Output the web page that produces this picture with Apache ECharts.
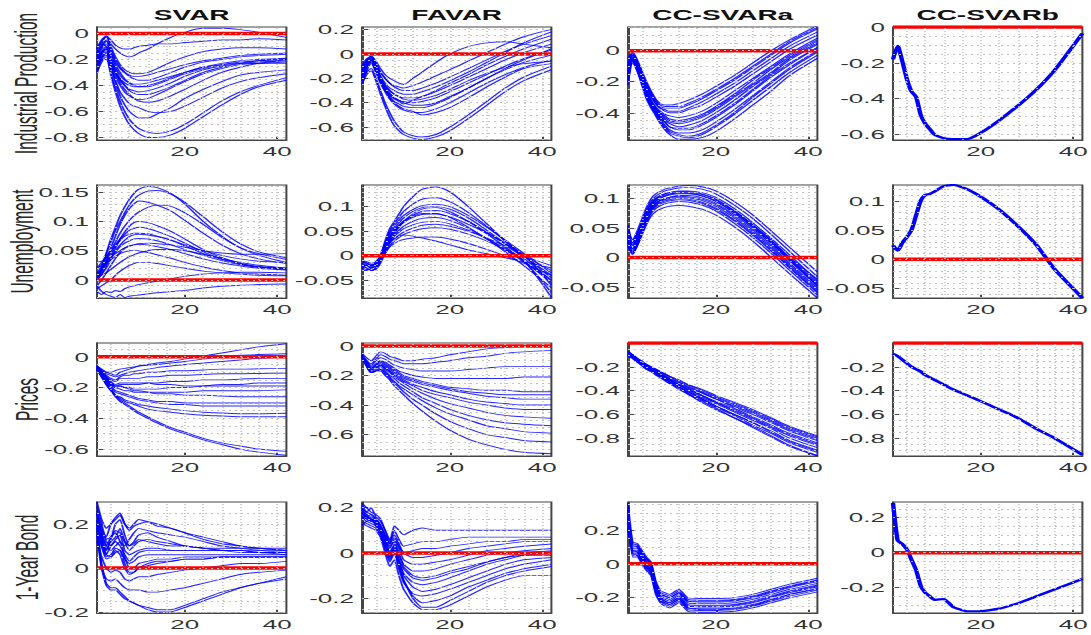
<!DOCTYPE html>
<html><head><meta charset="utf-8">
<script src="https://cdn.jsdelivr.net/npm/echarts@6/dist/echarts.min.js"></script>
<style>
html,body{margin:0;padding:0;background:#fff;overflow:hidden;width:1091px;height:635px}
#chart{width:545.5px;height:635px;transform:scaleX(2);transform-origin:0 0}
</style></head>
<body><div id="chart"></div>
<script>
// ---------- DATA ----------
const H = [1,2,3,4,5,6,7,8,9,10,12,14,17,20,24,28,32,36,42];
const models = ['SVAR','FAVAR','CC-SVARa','CC-SVARb'];
const variables = ['Industrial Production','Unemployment','Prices','1-Year Bond'];
const xTickLabels = [20, 40];

const ticks_ip_SVAR = [-0.8,-0.6,-0.4,-0.2,0];
const ticks_ip_FAVAR = [-0.6,-0.4,-0.2,0,0.2];
const ticks_ip_CCa = [-0.4,-0.2,0];
const ticks_ip_CCb = [-0.6,-0.4,-0.2,0];
const ticks_un_SVAR = [0,0.05,0.1,0.15];
const ticks_un_FAVAR = [-0.05,0,0.05,0.1];
const ticks_un_CCa = [-0.05,0,0.05,0.1];
const ticks_un_CCb = [-0.05,0,0.05,0.1];
const ticks_pr_SVAR = [-0.6,-0.4,-0.2,0];
const ticks_pr_FAVAR = [-0.6,-0.4,-0.2,0];
const ticks_pr_CCa = [-0.8,-0.6,-0.4,-0.2];
const ticks_pr_CCb = [-0.8,-0.6,-0.4,-0.2];
const ticks_bd_SVAR = [-0.2,0,0.2];
const ticks_bd_FAVAR = [-0.2,0,0.2];
const ticks_bd_CCa = [-0.2,0,0.2];
const ticks_bd_CCb = [-0.2,0,0.2];

const ip_SVAR = [
[-0.12,-0.06,-0.03,-0.08,-0.12,-0.15,-0.17,-0.18,-0.17,-0.15,-0.12,-0.08,-0.03,0.01,0.04,0.04,0.03,0.01,-0.03],
[-0.15,-0.08,-0.02,-0.05,-0.09,-0.11,-0.12,-0.12,-0.11,-0.1,-0.09,-0.08,-0.08,-0.07,-0.06,-0.05,-0.05,-0.04,-0.05],
[-0.2,-0.12,-0.08,-0.15,-0.22,-0.27,-0.3,-0.32,-0.33,-0.33,-0.32,-0.3,-0.27,-0.24,-0.21,-0.19,-0.17,-0.16,-0.15],
[-0.25,-0.15,-0.1,-0.18,-0.26,-0.32,-0.36,-0.38,-0.39,-0.39,-0.38,-0.36,-0.33,-0.3,-0.26,-0.23,-0.21,-0.2,-0.19],
[-0.18,-0.1,-0.06,-0.14,-0.24,-0.3,-0.35,-0.38,-0.4,-0.41,-0.41,-0.39,-0.35,-0.31,-0.27,-0.24,-0.22,-0.21,-0.2],
[-0.3,-0.2,-0.15,-0.22,-0.3,-0.36,-0.4,-0.43,-0.44,-0.45,-0.44,-0.42,-0.38,-0.33,-0.28,-0.25,-0.23,-0.22,-0.21],
[-0.22,-0.16,-0.12,-0.2,-0.28,-0.35,-0.4,-0.44,-0.46,-0.47,-0.47,-0.45,-0.41,-0.36,-0.3,-0.26,-0.23,-0.21,-0.19],
[-0.28,-0.18,-0.14,-0.24,-0.33,-0.4,-0.45,-0.48,-0.5,-0.51,-0.5,-0.47,-0.42,-0.37,-0.31,-0.27,-0.24,-0.23,-0.22],
[-0.1,-0.08,-0.1,-0.2,-0.3,-0.38,-0.43,-0.47,-0.5,-0.52,-0.53,-0.52,-0.48,-0.43,-0.36,-0.3,-0.26,-0.23,-0.2],
[-0.2,-0.15,-0.12,-0.25,-0.38,-0.48,-0.55,-0.6,-0.63,-0.65,-0.65,-0.62,-0.57,-0.5,-0.43,-0.37,-0.32,-0.3,-0.28],
[-0.25,-0.2,-0.2,-0.32,-0.45,-0.56,-0.64,-0.7,-0.74,-0.77,-0.8,-0.8,-0.78,-0.73,-0.64,-0.55,-0.47,-0.41,-0.36],
[-0.22,-0.18,-0.17,-0.3,-0.42,-0.52,-0.6,-0.66,-0.7,-0.73,-0.76,-0.77,-0.75,-0.7,-0.61,-0.52,-0.45,-0.4,-0.34],
[-0.2,-0.14,-0.12,-0.25,-0.36,-0.45,-0.5,-0.54,-0.56,-0.57,-0.6,-0.61,-0.6,-0.56,-0.49,-0.42,-0.37,-0.34,-0.31],
[-0.15,-0.1,-0.05,-0.12,-0.2,-0.26,-0.3,-0.33,-0.35,-0.36,-0.36,-0.34,-0.3,-0.26,-0.22,-0.2,-0.18,-0.17,-0.16],
[-0.3,-0.22,-0.18,-0.24,-0.3,-0.35,-0.38,-0.4,-0.41,-0.41,-0.4,-0.38,-0.34,-0.3,-0.26,-0.24,-0.23,-0.23,-0.23],
[-0.12,-0.05,-0.02,-0.1,-0.18,-0.24,-0.28,-0.3,-0.31,-0.31,-0.3,-0.27,-0.22,-0.18,-0.14,-0.12,-0.11,-0.11,-0.12]
];
const ip_FAVAR = [
[-0.15,-0.05,-0.02,-0.06,-0.12,-0.17,-0.2,-0.22,-0.24,-0.25,-0.2,-0.15,-0.07,0.0,0.06,0.09,0.1,0.08,0.05],
[-0.2,-0.1,-0.04,-0.08,-0.15,-0.2,-0.24,-0.26,-0.27,-0.28,-0.26,-0.23,-0.18,-0.13,-0.06,0.01,0.08,0.14,0.2],
[-0.12,-0.06,-0.03,-0.1,-0.18,-0.24,-0.28,-0.3,-0.32,-0.33,-0.33,-0.31,-0.27,-0.22,-0.15,-0.07,0.01,0.09,0.18],
[-0.18,-0.08,-0.05,-0.12,-0.2,-0.26,-0.3,-0.33,-0.35,-0.36,-0.36,-0.35,-0.31,-0.26,-0.19,-0.12,-0.05,0.01,0.08],
[-0.22,-0.12,-0.06,-0.14,-0.22,-0.28,-0.33,-0.36,-0.38,-0.39,-0.4,-0.39,-0.36,-0.31,-0.24,-0.17,-0.1,-0.04,0.03],
[-0.14,-0.07,-0.04,-0.12,-0.21,-0.29,-0.35,-0.39,-0.41,-0.43,-0.44,-0.44,-0.41,-0.36,-0.28,-0.2,-0.12,-0.05,0.04],
[-0.25,-0.14,-0.08,-0.15,-0.24,-0.31,-0.37,-0.41,-0.44,-0.46,-0.48,-0.48,-0.45,-0.4,-0.32,-0.24,-0.17,-0.11,-0.05],
[-0.2,-0.1,-0.05,-0.13,-0.23,-0.3,-0.36,-0.4,-0.43,-0.45,-0.47,-0.5,-0.48,-0.44,-0.36,-0.27,-0.19,-0.12,-0.08],
[-0.22,-0.15,-0.12,-0.2,-0.3,-0.4,-0.48,-0.55,-0.6,-0.64,-0.67,-0.68,-0.66,-0.6,-0.5,-0.39,-0.28,-0.19,-0.1],
[-0.25,-0.17,-0.14,-0.22,-0.33,-0.43,-0.52,-0.59,-0.63,-0.66,-0.69,-0.7,-0.68,-0.63,-0.53,-0.42,-0.31,-0.22,-0.13],
[-0.1,-0.04,-0.02,-0.08,-0.15,-0.2,-0.24,-0.27,-0.29,-0.3,-0.3,-0.28,-0.24,-0.19,-0.12,-0.05,0.02,0.08,0.15],
[-0.16,-0.09,-0.05,-0.12,-0.2,-0.27,-0.32,-0.36,-0.38,-0.4,-0.42,-0.42,-0.4,-0.35,-0.28,-0.2,-0.13,-0.07,-0.01],
[-0.2,-0.11,-0.07,-0.14,-0.23,-0.29,-0.34,-0.37,-0.39,-0.41,-0.38,-0.35,-0.3,-0.24,-0.17,-0.09,-0.02,0.04,0.12],
[-0.13,-0.07,-0.03,-0.1,-0.19,-0.26,-0.3,-0.33,-0.35,-0.37,-0.38,-0.37,-0.34,-0.29,-0.22,-0.16,-0.11,-0.08,-0.06]
];
const ip_CCa = [
[-0.05,-0.01,-0.06,-0.13,-0.2,-0.26,-0.31,-0.34,-0.35,-0.35,-0.34,-0.32,-0.28,-0.23,-0.16,-0.08,0.0,0.07,0.16],
[-0.08,-0.02,-0.07,-0.15,-0.22,-0.28,-0.33,-0.36,-0.37,-0.37,-0.37,-0.35,-0.31,-0.26,-0.19,-0.11,-0.03,0.05,0.14],
[-0.12,-0.04,-0.09,-0.17,-0.24,-0.3,-0.34,-0.37,-0.39,-0.4,-0.4,-0.38,-0.35,-0.3,-0.23,-0.15,-0.07,0.01,0.1],
[-0.15,-0.05,-0.1,-0.18,-0.26,-0.32,-0.36,-0.39,-0.41,-0.42,-0.43,-0.42,-0.39,-0.34,-0.26,-0.18,-0.1,-0.02,0.08],
[-0.18,-0.06,-0.11,-0.19,-0.27,-0.33,-0.37,-0.4,-0.43,-0.45,-0.46,-0.45,-0.42,-0.37,-0.29,-0.21,-0.12,-0.04,0.06],
[-0.2,-0.07,-0.12,-0.2,-0.28,-0.34,-0.38,-0.42,-0.45,-0.47,-0.49,-0.48,-0.45,-0.4,-0.32,-0.23,-0.15,-0.06,0.04],
[-0.1,-0.03,-0.1,-0.19,-0.27,-0.34,-0.39,-0.43,-0.46,-0.49,-0.51,-0.51,-0.48,-0.43,-0.35,-0.26,-0.17,-0.09,0.02],
[-0.22,-0.08,-0.13,-0.21,-0.29,-0.35,-0.4,-0.44,-0.48,-0.51,-0.53,-0.53,-0.51,-0.46,-0.38,-0.29,-0.2,-0.11,0.0],
[-0.14,-0.05,-0.12,-0.21,-0.3,-0.36,-0.41,-0.46,-0.5,-0.53,-0.55,-0.56,-0.54,-0.49,-0.41,-0.32,-0.23,-0.14,-0.03],
[-0.2,-0.07,-0.13,-0.22,-0.31,-0.37,-0.42,-0.47,-0.51,-0.54,-0.57,-0.57,-0.56,-0.52,-0.44,-0.35,-0.26,-0.16,-0.05],
[-0.06,-0.02,-0.07,-0.14,-0.21,-0.27,-0.32,-0.35,-0.36,-0.36,-0.36,-0.34,-0.3,-0.25,-0.18,-0.1,-0.02,0.06,0.15],
[-0.1,-0.03,-0.08,-0.16,-0.23,-0.29,-0.34,-0.37,-0.38,-0.39,-0.39,-0.37,-0.33,-0.28,-0.21,-0.13,-0.05,0.03,0.12],
[-0.16,-0.05,-0.11,-0.18,-0.27,-0.33,-0.37,-0.41,-0.44,-0.46,-0.47,-0.46,-0.43,-0.38,-0.3,-0.22,-0.14,-0.05,0.05],
[-0.17,-0.06,-0.11,-0.19,-0.28,-0.34,-0.39,-0.43,-0.46,-0.49,-0.5,-0.5,-0.47,-0.42,-0.34,-0.25,-0.16,-0.08,0.02],
[-0.13,-0.04,-0.1,-0.18,-0.26,-0.32,-0.37,-0.4,-0.42,-0.44,-0.45,-0.44,-0.41,-0.36,-0.28,-0.19,-0.11,-0.03,0.07],
[-0.19,-0.06,-0.12,-0.2,-0.29,-0.35,-0.4,-0.45,-0.49,-0.52,-0.54,-0.55,-0.53,-0.48,-0.4,-0.3,-0.21,-0.12,-0.01]
];
const ip_CCb = [
[-0.18,-0.105,-0.19,-0.29,-0.36,-0.39,-0.49,-0.54,-0.57,-0.6,-0.62,-0.625,-0.625,-0.59,-0.52,-0.44,-0.35,-0.24,-0.035]
];

const un_SVAR = [
[0.0,0.02,0.045,0.07,0.09,0.11,0.125,0.138,0.148,0.155,0.16,0.158,0.148,0.13,0.1,0.075,0.055,0.045,0.035],
[0.01,0.025,0.045,0.065,0.085,0.1,0.115,0.128,0.138,0.145,0.152,0.153,0.147,0.133,0.108,0.083,0.062,0.048,0.038],
[0.0,0.015,0.035,0.055,0.075,0.095,0.11,0.122,0.13,0.135,0.133,0.128,0.118,0.102,0.08,0.06,0.045,0.036,0.028],
[0.005,0.02,0.035,0.05,0.065,0.08,0.092,0.102,0.11,0.116,0.124,0.128,0.126,0.115,0.095,0.073,0.055,0.042,0.03],
[0.0,0.01,0.025,0.04,0.055,0.07,0.082,0.092,0.098,0.1,0.098,0.093,0.083,0.07,0.052,0.038,0.028,0.022,0.018],
[0.02,0.03,0.04,0.05,0.06,0.07,0.078,0.085,0.088,0.09,0.088,0.083,0.074,0.063,0.048,0.036,0.028,0.023,0.02],
[0.0,0.015,0.03,0.045,0.058,0.068,0.075,0.078,0.08,0.08,0.079,0.075,0.068,0.058,0.045,0.035,0.027,0.022,0.02],
[0.01,0.018,0.028,0.038,0.048,0.057,0.063,0.067,0.07,0.071,0.07,0.067,0.06,0.052,0.042,0.033,0.026,0.022,0.018],
[-0.01,0.0,0.012,0.025,0.037,0.047,0.054,0.058,0.06,0.061,0.06,0.057,0.052,0.045,0.036,0.029,0.024,0.02,0.017],
[0.02,0.025,0.03,0.035,0.04,0.045,0.048,0.05,0.051,0.05,0.047,0.043,0.037,0.03,0.022,0.016,0.012,0.01,0.008],
[-0.015,-0.01,-0.005,0.0,0.008,0.015,0.02,0.025,0.028,0.03,0.03,0.028,0.024,0.02,0.015,0.012,0.01,0.008,0.007],
[-0.02,-0.025,-0.02,-0.022,-0.018,-0.02,-0.015,-0.012,-0.01,-0.008,-0.005,-0.002,0.002,0.006,0.01,0.012,0.013,0.013,0.012],
[-0.01,-0.02,-0.025,-0.028,-0.03,-0.025,-0.03,-0.028,-0.027,-0.026,-0.024,-0.022,-0.02,-0.018,-0.014,-0.011,-0.009,-0.008,-0.007],
[0.03,0.032,0.035,0.04,0.045,0.05,0.055,0.058,0.06,0.062,0.063,0.062,0.06,0.056,0.05,0.046,0.044,0.044,0.045],
[0.0,0.01,0.02,0.035,0.05,0.06,0.068,0.074,0.077,0.078,0.077,0.074,0.068,0.06,0.05,0.042,0.036,0.032,0.03],
[0.005,0.008,0.012,0.018,0.024,0.03,0.035,0.04,0.043,0.046,0.05,0.052,0.052,0.05,0.044,0.037,0.03,0.025,0.02]
];
const un_FAVAR = [
[-0.01,-0.015,-0.02,-0.015,0.0,0.03,0.055,0.07,0.085,0.1,0.12,0.135,0.14,0.13,0.1,0.065,0.03,0.0,-0.04],
[-0.02,-0.02,-0.025,-0.02,0.0,0.025,0.05,0.065,0.078,0.09,0.105,0.115,0.118,0.11,0.088,0.06,0.03,0.0,-0.045],
[-0.015,-0.02,-0.02,-0.018,-0.005,0.02,0.04,0.055,0.067,0.077,0.09,0.098,0.1,0.095,0.077,0.052,0.025,-0.005,-0.05],
[-0.03,-0.03,-0.025,-0.02,-0.008,0.015,0.035,0.048,0.06,0.07,0.082,0.09,0.092,0.086,0.07,0.048,0.024,0.0,-0.03],
[-0.01,-0.015,-0.02,-0.015,0.0,0.02,0.04,0.052,0.062,0.07,0.08,0.086,0.086,0.078,0.058,0.034,0.008,-0.02,-0.065],
[-0.02,-0.025,-0.03,-0.025,-0.01,0.01,0.03,0.042,0.052,0.06,0.07,0.076,0.078,0.072,0.056,0.035,0.012,-0.012,-0.05],
[-0.025,-0.02,-0.02,-0.018,-0.005,0.015,0.03,0.04,0.048,0.055,0.063,0.068,0.07,0.065,0.052,0.035,0.015,-0.01,-0.075],
[-0.015,-0.018,-0.022,-0.02,-0.01,0.005,0.02,0.03,0.037,0.043,0.05,0.055,0.057,0.054,0.044,0.03,0.012,-0.01,-0.085],
[-0.02,-0.025,-0.03,-0.028,-0.015,0.005,0.018,0.025,0.03,0.033,0.036,0.038,0.038,0.034,0.025,0.013,0.0,-0.015,-0.04],
[-0.01,-0.012,-0.015,-0.012,0.0,0.015,0.028,0.035,0.04,0.042,0.04,0.036,0.03,0.022,0.012,0.004,-0.004,-0.012,-0.025],
[-0.018,-0.02,-0.02,-0.015,0.0,0.025,0.045,0.06,0.072,0.082,0.094,0.102,0.105,0.1,0.082,0.058,0.032,0.005,-0.035],
[-0.025,-0.028,-0.03,-0.025,-0.012,0.01,0.025,0.035,0.042,0.048,0.056,0.062,0.064,0.06,0.05,0.036,0.02,0.0,-0.02],
[-0.012,-0.015,-0.018,-0.016,-0.004,0.018,0.036,0.05,0.06,0.068,0.078,0.084,0.085,0.079,0.064,0.046,0.025,0.002,-0.06],
[-0.02,-0.02,-0.025,-0.02,-0.006,0.012,0.028,0.045,0.058,0.07,0.085,0.095,0.098,0.09,0.07,0.045,0.018,-0.01,-0.055]
];
const un_CCa = [
[0.05,0.03,0.045,0.065,0.085,0.1,0.108,0.112,0.116,0.118,0.121,0.122,0.12,0.113,0.095,0.072,0.045,0.017,-0.025],
[0.04,0.025,0.04,0.06,0.08,0.095,0.104,0.109,0.113,0.115,0.118,0.119,0.116,0.108,0.089,0.066,0.039,0.01,-0.033],
[0.035,0.02,0.035,0.055,0.075,0.09,0.1,0.105,0.108,0.11,0.113,0.113,0.11,0.102,0.083,0.059,0.032,0.004,-0.04],
[0.03,0.015,0.03,0.05,0.07,0.086,0.096,0.101,0.104,0.106,0.108,0.108,0.104,0.095,0.076,0.052,0.025,-0.003,-0.046],
[0.045,0.022,0.035,0.052,0.07,0.084,0.092,0.097,0.1,0.102,0.104,0.103,0.099,0.09,0.07,0.046,0.019,-0.01,-0.052],
[0.025,0.01,0.025,0.045,0.065,0.08,0.088,0.093,0.096,0.098,0.1,0.099,0.094,0.084,0.064,0.04,0.013,-0.016,-0.058],
[0.02,0.005,0.02,0.04,0.06,0.075,0.083,0.088,0.091,0.093,0.095,0.094,0.089,0.079,0.058,0.034,0.007,-0.022,-0.064],
[0.03,0.008,0.02,0.038,0.056,0.07,0.078,0.082,0.085,0.087,0.088,0.087,0.082,0.072,0.052,0.028,0.0,-0.028,-0.069],
[0.055,0.03,0.04,0.058,0.077,0.092,0.1,0.105,0.108,0.11,0.112,0.112,0.108,0.099,0.079,0.055,0.028,-0.001,-0.043],
[0.035,0.015,0.03,0.05,0.068,0.082,0.09,0.095,0.098,0.1,0.102,0.101,0.097,0.087,0.067,0.043,0.016,-0.013,-0.055],
[0.025,0.012,0.028,0.048,0.067,0.082,0.092,0.097,0.1,0.102,0.105,0.105,0.101,0.092,0.073,0.049,0.022,-0.006,-0.049],
[0.04,0.02,0.032,0.05,0.07,0.086,0.095,0.1,0.104,0.107,0.11,0.11,0.107,0.098,0.079,0.055,0.029,0.0,-0.037],
[0.02,0.006,0.022,0.042,0.062,0.077,0.086,0.091,0.094,0.096,0.098,0.097,0.092,0.082,0.062,0.038,0.011,-0.018,-0.06],
[0.045,0.025,0.038,0.057,0.076,0.09,0.098,0.103,0.106,0.108,0.11,0.109,0.105,0.096,0.076,0.052,0.025,-0.004,-0.048]
];
const un_CCb = [
[0.024,0.015,0.028,0.038,0.05,0.075,0.1,0.11,0.112,0.116,0.125,0.127,0.12,0.107,0.085,0.057,0.025,-0.017,-0.066]
];

const pr_SVAR = [
[-0.06,-0.08,-0.1,-0.11,-0.12,-0.1,-0.09,-0.08,-0.07,-0.06,-0.05,-0.04,-0.03,-0.015,0.005,0.025,0.045,0.065,0.085],
[-0.07,-0.09,-0.1,-0.1,-0.09,-0.08,-0.075,-0.07,-0.065,-0.06,-0.055,-0.05,-0.04,-0.03,-0.015,0.0,0.01,0.015,0.02],
[-0.06,-0.09,-0.12,-0.14,-0.15,-0.13,-0.12,-0.12,-0.11,-0.11,-0.1,-0.1,-0.09,-0.09,-0.085,-0.08,-0.08,-0.078,-0.075],
[-0.07,-0.1,-0.13,-0.15,-0.16,-0.14,-0.14,-0.14,-0.14,-0.14,-0.13,-0.13,-0.12,-0.12,-0.115,-0.11,-0.11,-0.108,-0.105],
[-0.08,-0.11,-0.14,-0.17,-0.19,-0.18,-0.18,-0.18,-0.18,-0.18,-0.17,-0.17,-0.16,-0.16,-0.15,-0.15,-0.145,-0.14,-0.14],
[-0.06,-0.1,-0.14,-0.17,-0.19,-0.19,-0.2,-0.2,-0.21,-0.21,-0.21,-0.21,-0.2,-0.2,-0.19,-0.18,-0.18,-0.17,-0.17],
[-0.07,-0.11,-0.15,-0.18,-0.2,-0.21,-0.22,-0.22,-0.23,-0.23,-0.23,-0.23,-0.23,-0.23,-0.22,-0.22,-0.22,-0.22,-0.215],
[-0.08,-0.12,-0.15,-0.18,-0.2,-0.19,-0.2,-0.21,-0.22,-0.22,-0.23,-0.24,-0.24,-0.25,-0.25,-0.255,-0.26,-0.26,-0.26],
[-0.07,-0.11,-0.15,-0.19,-0.22,-0.23,-0.24,-0.25,-0.26,-0.27,-0.28,-0.29,-0.29,-0.3,-0.3,-0.3,-0.3,-0.3,-0.3],
[-0.08,-0.12,-0.16,-0.2,-0.23,-0.24,-0.25,-0.26,-0.27,-0.28,-0.29,-0.3,-0.31,-0.31,-0.32,-0.32,-0.32,-0.32,-0.32],
[-0.08,-0.13,-0.17,-0.21,-0.25,-0.26,-0.28,-0.29,-0.3,-0.31,-0.32,-0.33,-0.34,-0.35,-0.36,-0.365,-0.37,-0.37,-0.367],
[-0.07,-0.12,-0.17,-0.21,-0.25,-0.27,-0.29,-0.3,-0.31,-0.32,-0.34,-0.35,-0.36,-0.37,-0.38,-0.385,-0.39,-0.39,-0.39],
[-0.08,-0.13,-0.18,-0.22,-0.25,-0.28,-0.3,-0.32,-0.34,-0.36,-0.39,-0.42,-0.46,-0.49,-0.53,-0.56,-0.58,-0.6,-0.615],
[-0.08,-0.13,-0.18,-0.22,-0.26,-0.29,-0.31,-0.33,-0.35,-0.37,-0.4,-0.43,-0.47,-0.5,-0.54,-0.57,-0.6,-0.62,-0.64],
[-0.06,-0.09,-0.11,-0.12,-0.13,-0.12,-0.11,-0.1,-0.095,-0.09,-0.08,-0.07,-0.06,-0.05,-0.04,-0.03,-0.02,-0.01,0.0],
[-0.07,-0.1,-0.13,-0.16,-0.18,-0.17,-0.17,-0.17,-0.17,-0.17,-0.17,-0.18,-0.18,-0.19,-0.19,-0.19,-0.19,-0.19,-0.19]
];
const pr_FAVAR = [
[-0.05,-0.08,-0.1,-0.07,-0.04,-0.05,-0.07,-0.08,-0.09,-0.1,-0.1,-0.09,-0.08,-0.06,-0.04,-0.02,-0.01,0.0,0.0],
[-0.06,-0.1,-0.12,-0.09,-0.06,-0.07,-0.09,-0.1,-0.11,-0.12,-0.12,-0.12,-0.11,-0.1,-0.08,-0.07,-0.05,-0.04,-0.03],
[-0.07,-0.11,-0.13,-0.1,-0.08,-0.09,-0.11,-0.13,-0.14,-0.15,-0.16,-0.17,-0.17,-0.17,-0.16,-0.15,-0.14,-0.14,-0.14],
[-0.06,-0.1,-0.14,-0.12,-0.1,-0.11,-0.13,-0.15,-0.17,-0.18,-0.2,-0.21,-0.22,-0.22,-0.22,-0.22,-0.22,-0.21,-0.21],
[-0.07,-0.11,-0.15,-0.13,-0.1,-0.12,-0.14,-0.16,-0.18,-0.2,-0.22,-0.24,-0.26,-0.28,-0.29,-0.3,-0.3,-0.31,-0.31],
[-0.08,-0.12,-0.15,-0.13,-0.11,-0.13,-0.15,-0.17,-0.19,-0.21,-0.23,-0.25,-0.27,-0.29,-0.31,-0.32,-0.33,-0.33,-0.33],
[-0.06,-0.11,-0.15,-0.14,-0.12,-0.14,-0.16,-0.18,-0.2,-0.22,-0.24,-0.26,-0.28,-0.3,-0.32,-0.34,-0.35,-0.36,-0.36],
[-0.07,-0.12,-0.16,-0.15,-0.13,-0.15,-0.17,-0.19,-0.21,-0.23,-0.26,-0.28,-0.31,-0.33,-0.36,-0.38,-0.39,-0.4,-0.4],
[-0.08,-0.12,-0.16,-0.15,-0.13,-0.15,-0.17,-0.2,-0.22,-0.24,-0.27,-0.3,-0.33,-0.35,-0.38,-0.4,-0.42,-0.43,-0.43],
[-0.07,-0.12,-0.17,-0.16,-0.14,-0.16,-0.18,-0.21,-0.23,-0.25,-0.29,-0.32,-0.36,-0.39,-0.42,-0.45,-0.47,-0.48,-0.49],
[-0.08,-0.13,-0.18,-0.17,-0.15,-0.17,-0.2,-0.22,-0.25,-0.27,-0.31,-0.35,-0.39,-0.43,-0.47,-0.5,-0.52,-0.53,-0.54],
[-0.07,-0.13,-0.18,-0.17,-0.16,-0.18,-0.21,-0.24,-0.27,-0.29,-0.33,-0.37,-0.42,-0.46,-0.5,-0.54,-0.56,-0.58,-0.59],
[-0.08,-0.13,-0.18,-0.17,-0.16,-0.19,-0.22,-0.25,-0.28,-0.31,-0.36,-0.4,-0.46,-0.51,-0.56,-0.6,-0.62,-0.64,-0.65],
[-0.08,-0.14,-0.18,-0.17,-0.17,-0.2,-0.23,-0.27,-0.3,-0.33,-0.39,-0.44,-0.51,-0.57,-0.63,-0.67,-0.7,-0.72,-0.73]
];
const pr_CCa = [
[-0.07,-0.1,-0.13,-0.16,-0.18,-0.2,-0.22,-0.24,-0.26,-0.28,-0.31,-0.35,-0.39,-0.44,-0.5,-0.56,-0.63,-0.7,-0.78],
[-0.08,-0.1,-0.13,-0.16,-0.19,-0.21,-0.23,-0.25,-0.27,-0.29,-0.33,-0.36,-0.41,-0.46,-0.52,-0.58,-0.65,-0.72,-0.8],
[-0.08,-0.11,-0.14,-0.17,-0.19,-0.21,-0.23,-0.26,-0.28,-0.3,-0.34,-0.37,-0.42,-0.47,-0.54,-0.6,-0.67,-0.74,-0.82],
[-0.09,-0.11,-0.14,-0.17,-0.2,-0.22,-0.24,-0.26,-0.29,-0.31,-0.35,-0.38,-0.44,-0.49,-0.55,-0.62,-0.69,-0.76,-0.84],
[-0.09,-0.11,-0.14,-0.17,-0.2,-0.22,-0.24,-0.27,-0.29,-0.31,-0.35,-0.39,-0.45,-0.5,-0.57,-0.64,-0.71,-0.78,-0.86],
[-0.1,-0.12,-0.15,-0.18,-0.21,-0.23,-0.25,-0.27,-0.3,-0.32,-0.36,-0.4,-0.46,-0.51,-0.58,-0.65,-0.72,-0.8,-0.88],
[-0.1,-0.12,-0.15,-0.18,-0.21,-0.23,-0.25,-0.28,-0.3,-0.32,-0.37,-0.41,-0.47,-0.53,-0.6,-0.67,-0.74,-0.82,-0.9],
[-0.1,-0.12,-0.15,-0.18,-0.21,-0.23,-0.26,-0.28,-0.31,-0.33,-0.37,-0.42,-0.48,-0.54,-0.61,-0.69,-0.76,-0.84,-0.92],
[-0.11,-0.13,-0.16,-0.19,-0.22,-0.24,-0.26,-0.29,-0.31,-0.34,-0.38,-0.43,-0.49,-0.55,-0.63,-0.7,-0.78,-0.86,-0.945],
[-0.08,-0.1,-0.13,-0.16,-0.19,-0.21,-0.23,-0.25,-0.28,-0.3,-0.33,-0.37,-0.42,-0.47,-0.53,-0.59,-0.66,-0.73,-0.81],
[-0.09,-0.11,-0.14,-0.17,-0.2,-0.22,-0.24,-0.27,-0.29,-0.31,-0.35,-0.39,-0.44,-0.5,-0.56,-0.63,-0.7,-0.77,-0.85],
[-0.1,-0.12,-0.15,-0.18,-0.21,-0.23,-0.25,-0.28,-0.3,-0.33,-0.37,-0.41,-0.47,-0.53,-0.6,-0.67,-0.75,-0.83,-0.91],
[-0.07,-0.1,-0.13,-0.15,-0.18,-0.2,-0.22,-0.24,-0.26,-0.28,-0.32,-0.35,-0.4,-0.45,-0.51,-0.57,-0.64,-0.71,-0.79],
[-0.11,-0.13,-0.16,-0.19,-0.22,-0.24,-0.27,-0.29,-0.32,-0.34,-0.39,-0.43,-0.5,-0.56,-0.63,-0.71,-0.79,-0.87,-0.95]
];
const pr_CCb = [
[-0.09,-0.11,-0.14,-0.17,-0.2,-0.22,-0.24,-0.27,-0.29,-0.31,-0.35,-0.39,-0.44,-0.49,-0.56,-0.63,-0.72,-0.8,-0.94]
];

const bd_SVAR = [
[0.3,0.22,0.18,0.2,0.22,0.24,0.2,0.18,0.2,0.22,0.21,0.19,0.18,0.16,0.14,0.12,0.1,0.09,0.08],
[0.25,0.18,0.14,0.2,0.23,0.25,0.2,0.17,0.19,0.2,0.21,0.2,0.18,0.16,0.13,0.11,0.1,0.09,0.08],
[0.2,0.15,0.1,0.14,0.16,0.12,0.1,0.13,0.16,0.18,0.17,0.16,0.15,0.14,0.12,0.1,0.09,0.08,0.07],
[0.22,0.12,0.08,0.12,0.14,0.18,0.12,0.08,0.1,0.12,0.13,0.12,0.11,0.1,0.09,0.08,0.08,0.07,0.07],
[0.28,0.2,0.12,0.1,0.13,0.15,0.08,0.06,0.07,0.08,0.09,0.09,0.08,0.08,0.08,0.08,0.08,0.08,0.08],
[0.18,0.12,0.06,0.1,0.12,0.1,0.06,0.03,0.05,0.07,0.08,0.08,0.08,0.08,0.08,0.08,0.08,0.07,0.07],
[0.15,0.1,0.05,0.06,0.09,0.08,0.04,0.02,0.03,0.05,0.06,0.06,0.06,0.06,0.06,0.06,0.06,0.06,0.06],
[0.24,0.16,0.1,0.08,0.1,0.12,0.05,0.0,0.0,0.02,0.03,0.04,0.04,0.05,0.05,0.05,0.05,0.05,0.05],
[0.2,0.1,0.04,0.05,0.08,0.06,0.0,-0.03,-0.02,0.0,0.01,0.02,0.03,0.04,0.04,0.05,0.05,0.05,0.05],
[0.26,0.17,0.13,0.14,0.17,0.16,0.12,0.1,0.11,0.13,0.12,0.11,0.1,0.1,0.09,0.09,0.09,0.09,0.09],
[0.12,0.05,0.0,-0.02,-0.01,-0.02,-0.05,-0.06,-0.05,-0.04,-0.04,-0.03,-0.02,-0.01,0.0,0.01,0.02,0.02,0.03],
[0.15,0.0,-0.05,-0.06,-0.05,-0.07,-0.09,-0.1,-0.1,-0.1,-0.11,-0.11,-0.1,-0.09,-0.07,-0.05,-0.03,-0.02,-0.01],
[0.18,0.0,-0.08,-0.1,-0.1,-0.12,-0.14,-0.15,-0.16,-0.17,-0.19,-0.2,-0.2,-0.18,-0.15,-0.12,-0.09,-0.07,-0.05],
[0.2,0.02,-0.07,-0.09,-0.09,-0.11,-0.13,-0.15,-0.16,-0.17,-0.18,-0.19,-0.19,-0.17,-0.14,-0.11,-0.09,-0.07,-0.04],
[0.25,0.14,0.08,0.13,0.2,0.22,0.15,0.1,0.12,0.15,0.16,0.14,0.12,0.1,0.09,0.08,0.07,0.07,0.06],
[0.22,0.14,0.06,0.05,0.07,0.08,0.02,-0.02,-0.02,0.0,0.02,0.03,0.03,0.04,0.04,0.05,0.05,0.05,0.05]
];
const bd_FAVAR = [
[0.2,0.18,0.2,0.16,0.14,0.1,0.05,0.12,0.1,0.08,0.1,0.11,0.1,0.1,0.1,0.1,0.1,0.1,0.1],
[0.15,0.17,0.14,0.15,0.12,0.08,0.04,0.1,0.06,0.03,0.04,0.05,0.05,0.06,0.07,0.07,0.07,0.07,0.07],
[0.22,0.2,0.18,0.17,0.15,0.1,0.06,0.08,0.04,0.0,-0.02,-0.02,-0.01,0.0,0.02,0.03,0.04,0.05,0.05],
[0.18,0.15,0.16,0.14,0.11,0.06,0.02,0.06,0.02,-0.03,-0.05,-0.05,-0.04,-0.03,-0.01,0.01,0.02,0.03,0.04],
[0.12,0.14,0.13,0.12,0.1,0.05,0.0,0.04,-0.01,-0.05,-0.08,-0.08,-0.07,-0.05,-0.03,-0.01,0.0,0.01,0.02],
[0.2,0.16,0.17,0.15,0.12,0.07,0.03,0.05,0.0,-0.06,-0.1,-0.11,-0.1,-0.08,-0.06,-0.04,-0.02,0.0,0.01],
[0.16,0.15,0.14,0.13,0.1,0.04,-0.02,0.02,-0.04,-0.09,-0.13,-0.14,-0.13,-0.11,-0.08,-0.05,-0.03,-0.01,0.0],
[0.19,0.17,0.15,0.14,0.11,0.05,0.0,0.03,-0.03,-0.1,-0.15,-0.17,-0.16,-0.14,-0.11,-0.08,-0.05,-0.03,-0.02],
[0.14,0.13,0.12,0.11,0.08,0.02,-0.04,0.0,-0.07,-0.13,-0.18,-0.19,-0.18,-0.16,-0.13,-0.1,-0.07,-0.05,-0.03],
[0.17,0.16,0.15,0.13,0.1,0.03,-0.03,0.01,-0.06,-0.12,-0.19,-0.22,-0.21,-0.19,-0.15,-0.12,-0.09,-0.07,-0.05],
[0.21,0.18,0.17,0.15,0.12,0.06,0.0,0.02,-0.05,-0.12,-0.2,-0.24,-0.24,-0.21,-0.17,-0.13,-0.1,-0.08,-0.06],
[0.13,0.12,0.11,0.1,0.07,0.0,-0.06,-0.03,-0.1,-0.16,-0.22,-0.25,-0.25,-0.23,-0.19,-0.15,-0.12,-0.1,-0.1],
[0.18,0.16,0.14,0.14,0.12,0.08,0.04,0.07,0.03,0.0,0.01,0.02,0.02,0.03,0.04,0.05,0.05,0.06,0.06],
[0.16,0.14,0.15,0.12,0.09,0.03,-0.02,0.02,-0.03,-0.07,-0.11,-0.12,-0.11,-0.09,-0.07,-0.04,-0.02,-0.01,-0.01]
];
const bd_CCa = [
[0.36,0.13,0.12,0.08,0.04,0.01,-0.1,-0.16,-0.17,-0.18,-0.15,-0.2,-0.205,-0.205,-0.2,-0.18,-0.15,-0.12,-0.085],
[0.3,0.12,0.11,0.07,0.03,0.0,-0.11,-0.17,-0.18,-0.19,-0.16,-0.21,-0.215,-0.215,-0.21,-0.19,-0.16,-0.13,-0.095],
[0.25,0.1,0.1,0.06,0.02,-0.01,-0.12,-0.18,-0.19,-0.2,-0.17,-0.22,-0.225,-0.225,-0.22,-0.2,-0.17,-0.14,-0.105],
[0.22,0.09,0.09,0.05,0.01,-0.02,-0.13,-0.19,-0.2,-0.21,-0.18,-0.23,-0.235,-0.235,-0.23,-0.21,-0.18,-0.15,-0.115],
[0.2,0.08,0.08,0.04,0.0,-0.03,-0.14,-0.2,-0.21,-0.22,-0.19,-0.24,-0.245,-0.245,-0.24,-0.22,-0.19,-0.16,-0.125],
[0.28,0.07,0.07,0.03,-0.01,-0.04,-0.15,-0.21,-0.22,-0.23,-0.2,-0.25,-0.255,-0.255,-0.25,-0.23,-0.2,-0.17,-0.135],
[0.33,0.06,0.06,0.02,-0.02,-0.05,-0.16,-0.22,-0.23,-0.24,-0.21,-0.26,-0.265,-0.265,-0.26,-0.24,-0.21,-0.18,-0.145],
[0.24,0.05,0.05,0.01,-0.03,-0.06,-0.17,-0.22,-0.24,-0.25,-0.22,-0.27,-0.275,-0.275,-0.27,-0.25,-0.22,-0.19,-0.155],
[0.35,0.04,0.04,0.0,-0.04,-0.07,-0.18,-0.23,-0.25,-0.26,-0.23,-0.28,-0.285,-0.285,-0.28,-0.26,-0.23,-0.2,-0.165],
[0.27,0.11,0.1,0.06,0.03,0.0,-0.12,-0.18,-0.19,-0.2,-0.17,-0.22,-0.22,-0.22,-0.215,-0.195,-0.165,-0.135,-0.1],
[0.21,0.08,0.07,0.03,-0.01,-0.04,-0.15,-0.2,-0.22,-0.23,-0.2,-0.25,-0.25,-0.25,-0.245,-0.225,-0.195,-0.165,-0.13],
[0.31,0.06,0.05,0.02,-0.02,-0.05,-0.16,-0.21,-0.23,-0.24,-0.21,-0.26,-0.27,-0.27,-0.265,-0.245,-0.215,-0.18,-0.15]
];
const bd_CCb = [
[0.285,0.07,0.05,0.02,-0.04,-0.1,-0.19,-0.23,-0.25,-0.27,-0.265,-0.31,-0.335,-0.335,-0.32,-0.29,-0.25,-0.21,-0.15]
];
const zeroLevel = 0;

// ---------- LAYOUT / STYLE ----------
const FONT = '"Liberation Sans", Arial, Helvetica, sans-serif';
const colLeft = [48.5, 181, 314, 446.5];
const colW = 94.7;
const rowTop = [27, 185, 343, 502];
const rowH = [113, 113, 113, 111];
const nameGaps = [27.5, 29.5, 27, 27];
const AX = '#454545';

const panels = [
 {r:0,c:0,name:'ip_SVAR',lines:ip_SVAR,ticks:ticks_ip_SVAR,min:-0.82,max:0.05,minor:0.05,smooth:0.3},
 {r:0,c:1,name:'ip_FAVAR',lines:ip_FAVAR,ticks:ticks_ip_FAVAR,min:-0.705,max:0.22,minor:0.05,smooth:0.3},
 {r:0,c:2,name:'ip_CCa',lines:ip_CCa,ticks:ticks_ip_CCa,min:-0.575,max:0.152,minor:0.05,smooth:0.3},
 {r:0,c:3,name:'ip_CCb',lines:ip_CCb,ticks:ticks_ip_CCb,min:-0.63,max:0,minor:0.05,smooth:0.2},
 {r:1,c:0,name:'un_SVAR',lines:un_SVAR,ticks:ticks_un_SVAR,min:-0.031,max:0.1625,minor:0.01,smooth:0.3},
 {r:1,c:1,name:'un_FAVAR',lines:un_FAVAR,ticks:ticks_un_FAVAR,min:-0.086,max:0.144,minor:0.01,smooth:0.3},
 {r:1,c:2,name:'un_CCa',lines:un_CCa,ticks:ticks_un_CCa,min:-0.069,max:0.123,minor:0.01,smooth:0.3},
 {r:1,c:3,name:'un_CCb',lines:un_CCb,ticks:ticks_un_CCb,min:-0.066,max:0.127,minor:0.01,smooth:0.2},
 {r:2,c:0,name:'pr_SVAR',lines:pr_SVAR,ticks:ticks_pr_SVAR,min:-0.645,max:0.09,minor:0.05,smooth:0.3},
 {r:2,c:1,name:'pr_FAVAR',lines:pr_FAVAR,ticks:ticks_pr_FAVAR,min:-0.745,max:0.02,minor:0.05,smooth:0.3},
 {r:2,c:2,name:'pr_CCa',lines:pr_CCa,ticks:ticks_pr_CCa,min:-0.95,max:0,minor:0.05,smooth:0.3},
 {r:2,c:3,name:'pr_CCb',lines:pr_CCb,ticks:ticks_pr_CCb,min:-0.95,max:0,minor:0.05,smooth:0.3},
 {r:3,c:0,name:'bd_SVAR',lines:bd_SVAR,ticks:ticks_bd_SVAR,min:-0.205,max:0.3,minor:0.05,smooth:0.15},
 {r:3,c:1,name:'bd_FAVAR',lines:bd_FAVAR,ticks:ticks_bd_FAVAR,min:-0.265,max:0.225,minor:0.05,smooth:0.15},
 {r:3,c:2,name:'bd_CCa',lines:bd_CCa,ticks:ticks_bd_CCa,min:-0.29,max:0.365,minor:0.05,smooth:0.15},
 {r:3,c:3,name:'bd_CCb',lines:bd_CCb,ticks:ticks_bd_CCb,min:-0.345,max:0.29,minor:0.05,smooth:0.15}
];

const chart = echarts.init(document.getElementById('chart'), null, {renderer:'svg'});
const option = {animation:false, backgroundColor:'#fff', title:[], grid:[], xAxis:[], yAxis:[], series:[]};

models.forEach((m,c)=>{
  option.title.push({text:m, left:colLeft[c]+colW/2, top:8, padding:0, textAlign:'center',
    textStyle:{fontSize:14, fontWeight:'bold', color:'#111', fontFamily:FONT}});
});

const xMinor = []; for (let v=4; v<=40; v+=4) xMinor.push(v);
const xMin = H[0], xMax = H[H.length-1];

panels.forEach((p,i)=>{
  p.lines.forEach((ln,k)=>{ if (ln.length!==H.length) throw new Error('bad length '+p.name+' #'+k+' = '+ln.length); });
  option.grid.push({left:colLeft[p.c], top:rowTop[p.r], width:colW, height:rowH[p.r],
    show:true, borderColor:AX, borderWidth:1, backgroundColor:'#fff', containLabel:false, outerBoundsMode:'none'});
  option.xAxis.push({type:'value', gridIndex:i, min:xMin, max:xMax,
    axisLine:{show:true, onZero:false, lineStyle:{color:AX, width:1}},
    axisTick:{show:true, inside:true, length:3, customValues:xTickLabels, lineStyle:{color:AX}},
    axisLabel:{show:true, customValues:xTickLabels, fontSize:13, color:'#333', margin:5, fontFamily:FONT},
    splitLine:{show:false}});
  option.yAxis.push({type:'value', gridIndex:i, min:p.min, max:p.max,
    axisLine:{show:true, onZero:false, lineStyle:{color:AX, width:1}},
    axisTick:{show:true, inside:true, length:3, customValues:p.ticks, lineStyle:{color:AX}},
    axisLabel:{show:true, customValues:p.ticks, fontSize:13, color:'#333', margin:4, fontFamily:FONT},
    splitLine:{show:false},
    name: p.c===0 ? variables[p.r] : '', nameLocation:'middle', nameGap:nameGaps[p.r], nameMoveOverlap:false,
    nameTextStyle:{fontSize:15.5, color:'#262626', fontFamily:FONT, lineHeight:16}});
  const ys=[];
  for (let k=Math.ceil(p.min/p.minor+1e-6); k*p.minor < p.max-1e-6; k++) ys.push(+(k*p.minor).toFixed(4));
  option.series.push({type:'line', xAxisIndex:i, yAxisIndex:i, data:[], silent:true, z:1,
    markLine:{silent:true, symbol:'none', animation:false, label:{show:false},
      lineStyle:{color:'#c2c2c2', type:[1,2], width:0.8},
      data:[...xMinor.map(v=>({xAxis:v})), ...ys.map(v=>({yAxis:v}))]}});
  const single = p.lines.length===1;
  p.lines.forEach(ln=>{
    option.series.push({type:'line', xAxisIndex:i, yAxisIndex:i, data:H.map((h,k)=>[h, ln[k]]),
      symbol:'none', showSymbol:false, smooth:p.smooth, silent:true, z:2,
      lineStyle:{color:'#0000ff', width: single?2.2:0.95, opacity: single?1:0.85}});
  });
  option.series.push({type:'line', xAxisIndex:i, yAxisIndex:i, data:[[xMin,zeroLevel],[xMax,zeroLevel]],
    symbol:'none', showSymbol:false, silent:true, z:3, lineStyle:{color:'#ff0000', width:3.5}});
});

chart.setOption(option);
</script></body></html>
